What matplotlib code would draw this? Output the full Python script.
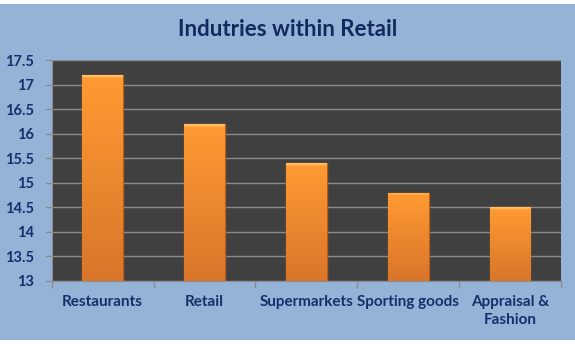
import numpy as np
import matplotlib
matplotlib.use("agg")
import matplotlib.pyplot as plt
from matplotlib.patches import Rectangle
from matplotlib.colors import to_rgb

categories = ["Restaurants", "Retail", "Supermarkets", "Sporting goods", "Appraisal &\nFashion"]
values = [17.2, 16.2, 15.4, 14.8, 14.5]
yticks = [13, 13.5, 14, 14.5, 15, 15.5, 16, 16.5, 17, 17.5]
ytick_labels = ["13", "13.5", "14", "14.5", "15", "15.5", "16", "16.5", "17", "17.5"]

navy = "#14306B"
bg_blue = "#95B3D7"
plt.rcParams['font.family'] = ['Lato', 'DejaVu Sans']

fig = plt.figure(figsize=(5.75, 3.44), dpi=100)
fig.patch.set_facecolor("white")
# blue chart area (leaves thin white strips top and bottom like the source)
fig.patches.append(Rectangle((0, 4 / 344), 1, 336 / 344, transform=fig.transFigure,
                             facecolor=bg_blue, edgecolor="none", zorder=-10))

ax = fig.add_axes([51.7 / 575, 1 - 280.8 / 344, (561 - 51.7) / 575, (280.8 - 60.3) / 344])
ax.set_facecolor("#404040")

x = np.arange(len(categories))
bars = ax.bar(x, [v - 13 for v in values], bottom=13, width=0.4,
              color="#F28C2C", edgecolor="#B25C1C", linewidth=1.0, zorder=3)

# vertical gradient + bevelled top on each bar
top_c = np.array(to_rgb("#FF9B33"))
bot_c = np.array(to_rgb("#D9752A"))
bevel_c = np.array(to_rgb("#FFC76E"))
for b, v in zip(bars, values):
    n = 200
    ys = np.linspace(v, 13, n)
    img = np.zeros((n, 2, 3))
    for i, yy in enumerate(ys):
        d = v - yy
        if d < 0.06:
            c = bevel_c + (top_c - bevel_c) * (d / 0.06)
        else:
            f = (v - yy) / (v - 13)
            c = top_c + (bot_c - top_c) * f
        img[i, :, :] = c
    im = ax.imshow(img, extent=(b.get_x(), b.get_x() + b.get_width(), 13, v),
                   aspect="auto", zorder=3.5, interpolation="bilinear")
    im.set_clip_path(b)

ax.set_xlim(-0.5, len(categories) - 0.5)
ax.set_ylim(13, 17.5)
ax.set_yticks(yticks)
ax.set_yticklabels(ytick_labels)
ax.yaxis.grid(True, color="#8C8C8C", linewidth=1)
ax.set_axisbelow(True)

ax.set_xticks(np.arange(-0.5, len(categories), 1))
ax.set_xticklabels([])
ax.set_xticks(x, minor=True)
ax.set_xticklabels(categories, minor=True, fontsize=11, fontweight="bold", color=navy,
                   linespacing=1.35)
ax.tick_params(axis="x", which="minor", length=0, pad=10)
ax.tick_params(axis="x", which="major", length=5, color="#8C8C8C", width=1)
ax.tick_params(axis="y", length=5, color="#8C8C8C", width=1, pad=8,
               labelsize=10.5, labelcolor=navy)
for lbl in ax.get_yticklabels():
    lbl.set_fontweight("bold")

for s in ["top", "right"]:
    ax.spines[s].set_visible(False)
ax.spines["left"].set_color("#8C8C8C")
ax.spines["bottom"].set_color("#8C8C8C")

fig.text(0.5, 1 - 29 / 344, "Indutries within Retail", ha="center", va="center",
         fontsize=16, fontweight="bold", color="#11295C")

fig.savefig("out.png", dpi=100)
